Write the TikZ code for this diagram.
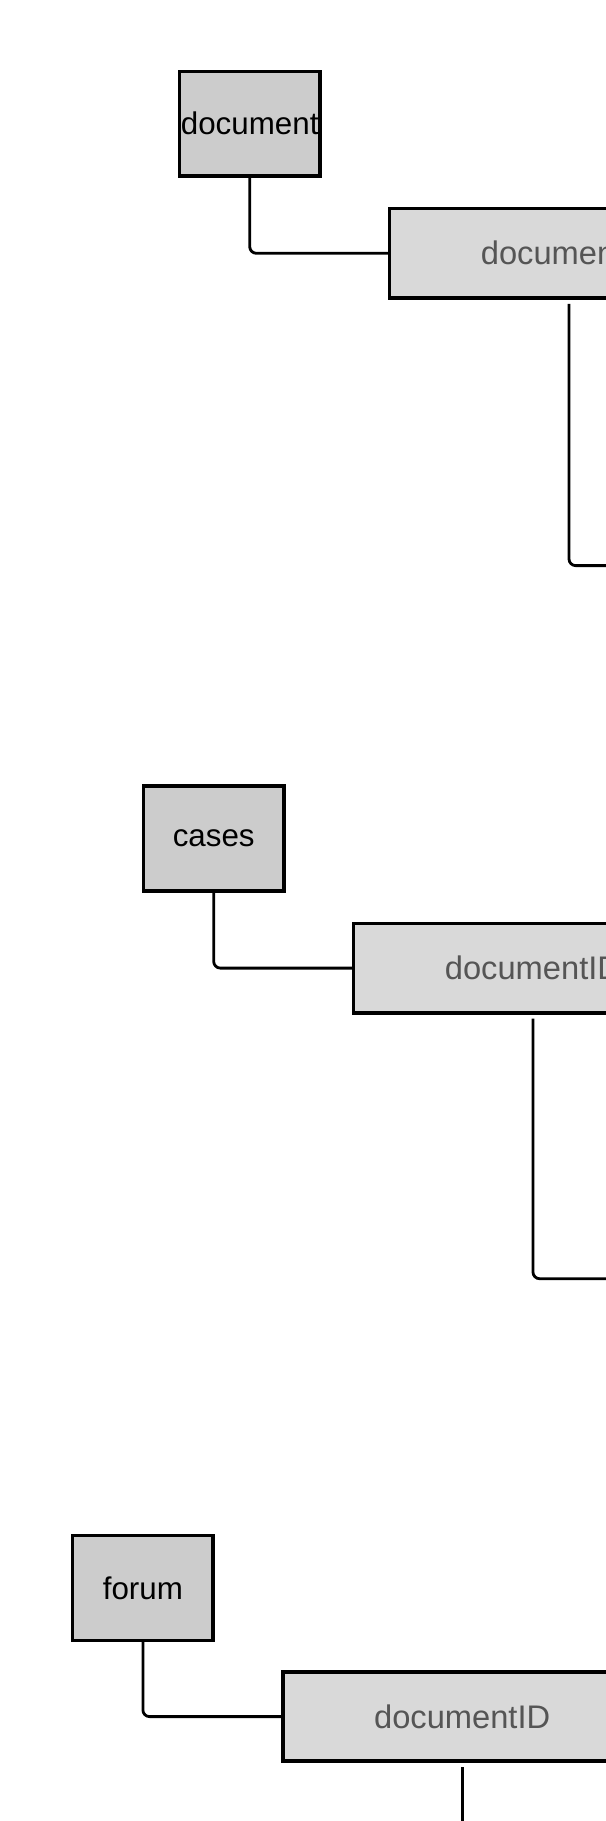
\documentclass[tikz,border=0pt]{standalone}
\usepackage{fontspec}
\setmainfont{Liberation Sans}
\usetikzlibrary{positioning}

\definecolor{tablegray}{HTML}{CCCCCC}
\definecolor{fieldgray}{HTML}{D9D9D9}
\definecolor{fieldtext}{HTML}{555555}

\tikzset{
  table/.style={draw, line width=2.7pt, fill=tablegray, inner sep=0pt,
    minimum width=105.5pt, minimum height=78.5pt,
    font=\fontsize{23.5}{28}\selectfont},
  field/.style={draw, line width=2.7pt, fill=fieldgray, text=fieldtext, inner sep=0pt,
    minimum width=269pt, minimum height=67pt,
    font=\fontsize{24.5}{29}\selectfont},
  link/.style={line width=2.1pt, rounded corners=5pt},
}

\begin{document}
\begin{tikzpicture}[x=0.75pt, y=-0.75pt]
    \useasboundingbox (0, 0) rectangle (606, 1821);
    \clip (0, 0) rectangle (606, 1821);
    % document
    \node [table] (doc) at (249.7, 123.7) {document};
    \node [field, below right=21.75pt and 49.5pt of doc] (idA) {documentID};
    \coordinate (runA) at (700, 565.6);
    \draw [link]     (doc.south) |- (idA.west);
    \draw [link]     ([yshift=-3pt]idA.south) |- (runA);
    % cases
    \node [table] (cases) at (213.7, 838.5) {cases};
    \node [field, below right=21.75pt and 49.5pt of cases] (idB) {documentID};
    \coordinate (runB) at (700, 1278.7);
    \draw [link]     (cases.south) |- (idB.west);
    \draw [link]     ([yshift=-3pt]idB.south) |- (runB);
    % forum
    \node [table] (forum) at (142.9, 1588) {forum};
    \node [field, below right=21pt and 49.5pt of forum] (idC) {documentID};
    \coordinate (runC) at (462.3, 1830);
    \draw [link]     (forum.south) |- (idC.west);
    \draw [link]     ([yshift=-3pt]idC.south) -- (idC.south |- runC);
  \end{tikzpicture}
\end{document}
